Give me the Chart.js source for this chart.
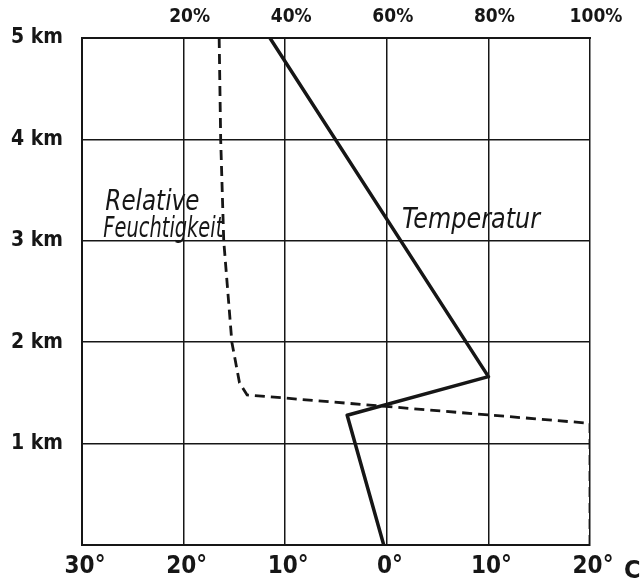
<!DOCTYPE html>
<html>
<head>
<meta charset="utf-8">
<script src="https://cdn.jsdelivr.net/npm/chart.js@4/dist/chart.umd.min.js"></script>
<style>
  html, body { margin: 0; padding: 0; background: #fff; }
  #wrap { width: 642px; height: 584px; }
</style>
</head>
<body>
<div id="wrap"><canvas id="c" width="642" height="584"></canvas></div>
<script>
// Temperatur (solid) — °C over height in km
const tempValues  = [-11.5, 10, -3.9, -0.3];
const tempHeights = [5, 1.66, 1.28, 0];

// Relative Feuchtigkeit (dashed) — % over height in km
const humValues  = [27, 27.3, 27.9, 29.5, 31, 32.5, 100, 100];
const humHeights = [5, 4, 3, 2, 1.6, 1.48, 1.2, 0];

const tempTicks = [-30, -20, -10, 0, 10, 20];
const humTicks = [0, 20, 40, 60, 80, 100];
const heightTicks = [0, 1, 2, 3, 4, 5];

const FONT = "'DejaVu Sans Condensed', sans-serif";
const INK = "#161616";

// free text labels, placed in data coordinates
const notes = [
  { text: "Relative", t: -27.7, h: 3.30 },
  { text: "Feuchtigkeit", t: -27.9, h: 3.04 },
  { text: "Temperatur", t: 1.5, h: 3.13 },
];
const noteWidths = { "Relative": 94, "Feuchtigkeit": 120, "Temperatur": 138 };

const notesPlugin = {
  id: "notes",
  afterDatasetsDraw(chart) {
    const ctx = chart.ctx;
    const xs = chart.scales.x, ys = chart.scales.y;
    ctx.save();
    ctx.fillStyle = INK;
    ctx.font = "italic 29px " + FONT;
    ctx.textBaseline = "alphabetic";
    notes.forEach(n => ctx.fillText(n.text, xs.getPixelForValue(n.t), ys.getPixelForValue(n.h), noteWidths[n.text]));
    // unit after the last temperature tick
    ctx.font = "bold 25px " + FONT;
    ctx.fillText("C", xs.getPixelForValue(20) + 34, chart.chartArea.bottom + 33);
    ctx.restore();
  }
};

new Chart(document.getElementById("c"), {
  type: "scatter",
  data: {
    datasets: [
      {
        label: "Temperatur",
        data: tempValues.map((v, i) => ({ x: v, y: tempHeights[i] })),
        xAxisID: "x",
        showLine: true,
        borderColor: INK,
        borderWidth: 3.5,
        borderJoinStyle: "round",
        pointRadius: 0,
        tension: 0,
      },
      {
        label: "Relative Feuchtigkeit",
        data: humValues.map((v, i) => ({ x: v, y: humHeights[i] })),
        xAxisID: "x2",
        showLine: true,
        borderColor: INK,
        borderWidth: 2.8,
        borderDash: [10, 6],
        pointRadius: 0,
        tension: 0,
      },
    ],
  },
  options: {
    responsive: false,
    animation: false,
    layout: { padding: { left: 0, right: 52, top: 0, bottom: 0 } },
    plugins: { legend: { display: false }, tooltip: { enabled: false } },
    scales: {
      x: {
        type: "linear",
        position: "bottom",
        min: -30, max: 20,
        afterBuildTicks: (s) => { s.ticks = tempTicks.map(v => ({ value: v })); },
        afterFit: (s) => { s.height = 39; },
        grid: { color: INK, lineWidth: 1.5, drawTicks: false },
        border: { color: INK, width: 2 },
        ticks: {
          color: INK,
          font: { family: FONT, size: 24, weight: "bold" },
          padding: 7,
          labelOffset: 3,
          maxRotation: 0,
          callback: (v) => Math.abs(v) + "°",
        },
      },
      x2: {
        type: "linear",
        position: "top",
        min: 0, max: 100,
        afterBuildTicks: (s) => { s.ticks = humTicks.map(v => ({ value: v })); },
        afterFit: (s) => { s.height = 38; },
        grid: { display: false, drawTicks: false },
        border: { color: INK, width: 2 },
        ticks: {
          color: INK,
          font: { family: FONT, size: 19, weight: "bold" },
          padding: 10,
          labelOffset: 6,
          maxRotation: 0,
          callback: (v) => (v === 0 ? "" : v + "%"),
        },
      },
      y: {
        type: "linear",
        min: 0, max: 5,
        afterBuildTicks: (s) => { s.ticks = heightTicks.map(v => ({ value: v })); },
        afterFit: (s) => { s.width = 82; },
        grid: { color: INK, lineWidth: 1.5, drawTicks: false },
        border: { color: INK, width: 2 },
        ticks: {
          color: INK,
          font: { family: FONT, size: 21, weight: "bold" },
          padding: 19,
          callback: (v) => (v === 0 ? "" : v + " km"),
        },
      },
    },
  },
  plugins: [notesPlugin],
});
</script>
</body>
</html>
